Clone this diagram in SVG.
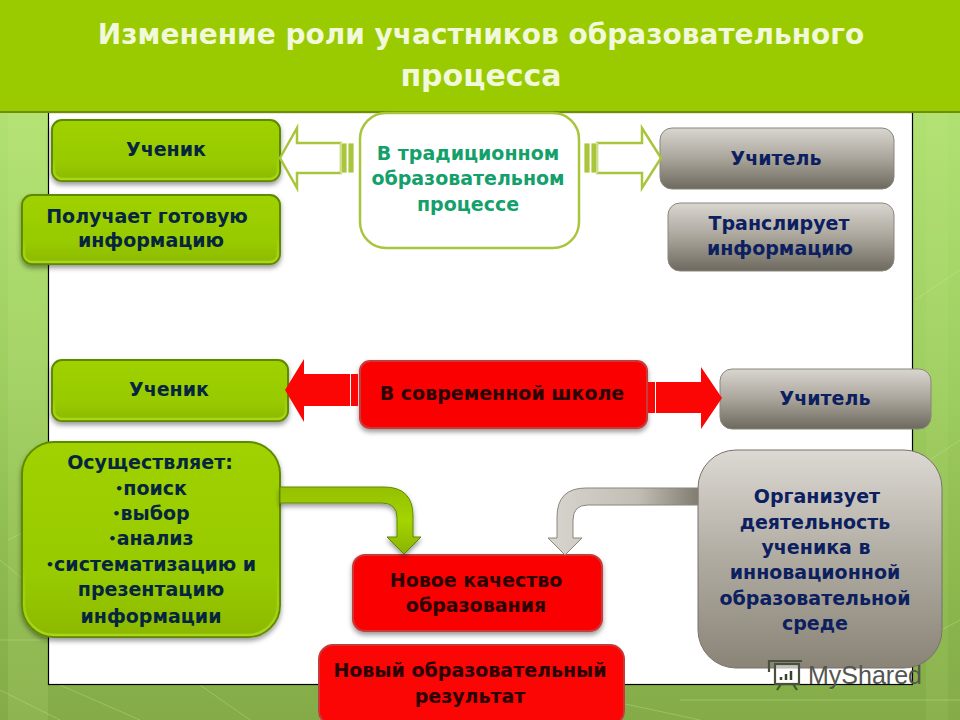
<svg xmlns="http://www.w3.org/2000/svg" width="960" height="720" viewBox="0 0 960 720">
<style>
text{font-family:"DejaVu Sans","Liberation Sans",sans-serif;font-weight:700;text-anchor:middle;font-size:19px}
.dk{fill:#06263f}.nv{fill:#0c2060}.gt{fill:#14a06a}.rt{fill:#2a0404}
.g{fill:url(#gGreen);stroke:#5f8a00;stroke-width:2}
.rim{fill:none;stroke:url(#rim);stroke-width:2.500}
.s{fill:url(#gGrey);stroke:#8a867c;stroke-width:1}
.r{fill:#fb0505;stroke:#c83a3a;stroke-width:2}
.h{fill:#fff;stroke:#a9c53c;stroke-width:2.500}
.b{fill:#a9c53c;stroke:#fff;stroke-width:.8}
.t{font-size:28px;fill:#f2f8da}
.streak{stroke:#d8f0a8;stroke-width:1;opacity:.3;fill:none}
</style>
<defs>
<linearGradient id="bg" x1="0" y1="0" x2="0" y2="1"><stop offset="0" stop-color="#b8e878"/><stop offset=".5" stop-color="#a0d062"/><stop offset=".85" stop-color="#8ab54c"/><stop offset="1" stop-color="#84ab48"/></linearGradient>
<linearGradient id="gGreen" x1="0" y1="0" x2="0" y2="1"><stop offset="0" stop-color="#a0d200"/><stop offset=".7" stop-color="#97ca00"/><stop offset="1" stop-color="#8cb800"/></linearGradient>
<linearGradient id="rim" x1="0" y1="0" x2="0" y2="1"><stop offset=".6" stop-color="#c4ec30" stop-opacity="0"/><stop offset="1" stop-color="#c4ec30" stop-opacity=".55"/></linearGradient>
<linearGradient id="gGrey" x1="0" y1="0" x2="0" y2="1"><stop offset="0" stop-color="#d9d6d0"/><stop offset=".5" stop-color="#aaa59b"/><stop offset="1" stop-color="#6e695e"/></linearGradient>
<linearGradient id="gGreyL" x1="0" y1="0" x2="0" y2="1"><stop offset="0" stop-color="#dcd9d3"/><stop offset=".5" stop-color="#b0aba1"/><stop offset="1" stop-color="#8a8477"/></linearGradient>
<linearGradient id="aGreen" x1="0" y1="0" x2="0" y2="1"><stop offset="0" stop-color="#94c000"/><stop offset=".5" stop-color="#a4d400"/><stop offset="1" stop-color="#8ab400"/></linearGradient>
<linearGradient id="aGrey" x1="0" y1="0" x2="1" y2="0"><stop offset="0" stop-color="#d8d5cf"/><stop offset=".6" stop-color="#c2beb5"/><stop offset="1" stop-color="#817c70"/></linearGradient>
<filter id="sh" x="-10%" y="-10%" width="120%" height="125%"><feDropShadow dx="0" dy="3" stdDeviation="2.500" flood-color="#000" flood-opacity=".4"/></filter>
</defs>
<rect id="background" width="960" height="720" fill="url(#bg)"/>
<rect x="8" y="112" width="40" height="608" fill="#d0f090" opacity=".14"/>
<rect x="926" y="112" width="22" height="608" fill="#d0f090" opacity=".1"/>
<path class="streak" d="M0 560L48 600M0 690L60 720M0 640H48M8 540L48 520M60 685L140 720M200 685L250 720M560 690L700 720M680 700H960M830 690L960 620M915 300L960 270M915 470L960 440"/>
<rect id="panel" x="48.500" y="112.500" width="864" height="572" fill="#fff" stroke="#000" stroke-width="1.200"/>
<g id="header">
<rect x="0" y="0" width="960" height="112" fill="#99cb00"/>
<rect x="0" y="111" width="960" height="2" fill="#6f8f00"/>
<text class="t" x="481" y="44">Изменение роли участников образовательного</text>
<text class="t" x="481" y="86" style="font-size:30px">процесса</text>
</g>
<g id="node-uchenik-1"><rect class="g" filter="url(#sh)" x="52" y="120" width="228" height="61" rx="10"/><rect class="rim" x="54" y="122" width="224" height="57" rx="8"/><text class="dk" x="166" y="156">Ученик</text></g>
<g id="node-poluchaet"><rect class="g" filter="url(#sh)" x="22" y="195" width="258" height="69" rx="10"/><rect class="rim" x="24" y="197" width="254" height="65" rx="8"/><text class="dk" x="147" y="223">Получает готовую</text><text class="dk" x="151" y="247">информацию</text></g>
<g id="node-traditional"><rect class="h" x="360" y="113" width="219" height="135" rx="26"/><text class="gt" x="468" y="160">В традиционном</text><text class="gt" x="468" y="185">образовательном</text><text class="gt" x="468" y="211">процессе</text></g>
<g id="node-uchitel-1"><rect class="s" x="660" y="128" width="234" height="61" rx="12"/><text class="nv" x="776" y="165">Учитель</text></g>
<g id="node-transliruet"><rect class="s" x="668" y="203" width="226" height="68" rx="12"/><text class="nv" x="779" y="230">Транслирует</text><text class="nv" x="780" y="255">информацию</text></g>
<g id="node-uchenik-2"><rect class="g" filter="url(#sh)" x="52" y="360" width="236" height="61" rx="10"/><rect class="rim" x="54" y="362" width="232" height="57" rx="8"/><text class="dk" x="169" y="396">Ученик</text></g>
<g id="node-modern"><rect class="r" filter="url(#sh)" x="360" y="361" width="287" height="67" rx="10"/><text class="rt" x="502" y="400">В современной школе</text></g>
<g id="node-uchitel-2"><rect class="s" x="720" y="369" width="211" height="60" rx="12"/><text class="nv" x="825" y="405">Учитель</text></g>
<g id="node-osush"><rect class="g" filter="url(#sh)" x="22" y="442" width="258" height="195" rx="32"/><rect class="rim" x="24" y="444" width="254" height="191" rx="30"/>
<text class="dk" x="150" y="469">Осуществляет:</text>
<text class="dk" x="151" y="495"><tspan style="font-size:13px" dy="-2">•</tspan><tspan dy="2">поиск</tspan></text>
<text class="dk" x="151" y="520"><tspan style="font-size:13px" dy="-2">•</tspan><tspan dy="2">выбор</tspan></text>
<text class="dk" x="151" y="545"><tspan style="font-size:13px" dy="-2">•</tspan><tspan dy="2">анализ</tspan></text>
<text class="dk" x="151" y="571"><tspan style="font-size:13px" dy="-2">•</tspan><tspan dy="2">систематизацию и</tspan></text>
<text class="dk" x="151" y="596">презентацию</text><text class="dk" x="151" y="623">информации</text></g>
<g id="node-novoe"><rect class="r" filter="url(#sh)" x="353" y="555" width="249" height="76" rx="12"/><text class="rt" x="476" y="587">Новое качество</text><text class="rt" x="476" y="612">образования</text></g>
<g id="node-rezultat"><rect class="r" x="319" y="645" width="305" height="80" rx="14"/><text class="rt" x="470" y="677">Новый образовательный</text><text class="rt" x="470" y="703">результат</text></g>
<g id="watermark-back" fill="none" stroke="#3f5a2a" stroke-width="2.200">
<path d="M781 684L777 690M793 684L797 690"/>
</g>
<g id="node-organizuet"><rect x="698" y="450" width="244" height="218" rx="38" fill="url(#gGreyL)" stroke="#77736a" stroke-width="1"/>
<text class="nv" x="817" y="503">Организует</text><text class="nv" x="815" y="529">деятельность</text><text class="nv" x="816" y="554">ученика в</text><text class="nv" x="815" y="579">инновационной</text><text class="nv" x="815" y="605">образовательной</text><text class="nv" x="815" y="630">среде</text></g>
<g id="connectors">
<path class="h" d="M280 158L297 128V143H341V173H297V188Z"/>
<rect class="b" x="341" y="143" width="6" height="30"/><rect class="b" x="348" y="143" width="6" height="30"/>
<path class="h" d="M661 158L642 128V143H597V173H642V188Z"/>
<rect class="b" x="584" y="143" width="6" height="30"/><rect class="b" x="591" y="143" width="6" height="30"/>
<path fill="#fb0505" d="M285 390L304 359V374H350V406H304V422Z"/>
<rect x="351" y="374" width="7" height="32" fill="#fb0505"/>
<path fill="#fb0505" d="M722 398L701 367V382H656V413H701V429Z"/>
<rect x="648" y="382" width="7" height="31" fill="#fb0505"/>
<path fill="url(#aGreen)" stroke="#5f8a00" stroke-width="1" filter="url(#sh)" d="M280 487H384Q413 487 413 516V537H421L404 554L387 537H397V518Q397 503 382 503H280Z"/>
<path fill="url(#aGrey)" stroke="#8a867c" stroke-width="1" d="M698 488H586Q557 488 557 517V538H548L565 555L582 538H573V520Q573 505 588 505H698Z"/>
</g>
<g id="watermark">
<rect x="775" y="664" width="24" height="20" fill="#fff" fill-opacity=".5" stroke="#4a5040" stroke-width="2.200"/>
<path d="M769 672V661H802" fill="none" stroke="#4a5040" stroke-width="2.200"/>
<path d="M781 680V677M786 680V674M791 680V671" fill="none" stroke="#3a4030" stroke-width="2.500"/>
<text x="865" y="684" style="font-family:'Liberation Sans',sans-serif;font-weight:400;font-size:25px;fill:#55554e">MyShared</text>
</g>
</svg>
